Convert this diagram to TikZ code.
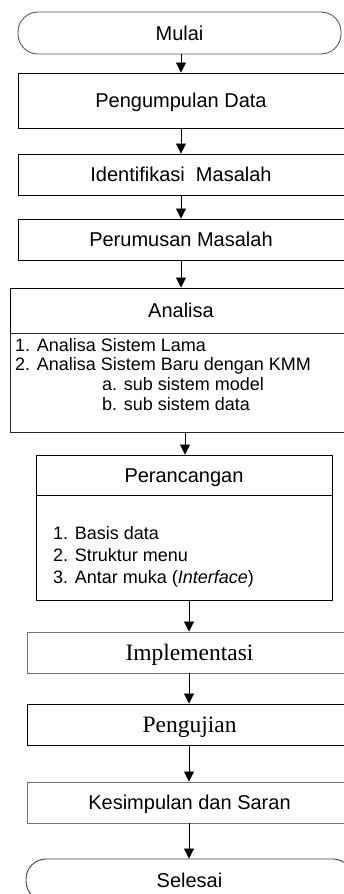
\documentclass[tikz,border=0pt]{standalone}
\usepackage{fontspec}
\setmainfont{Liberation Sans}
\newfontfamily\tnr{Liberation Serif}
\usetikzlibrary{arrows.meta}
\begin{document}
\begin{tikzpicture}[x=1pt,y=-1pt,
  box/.style={draw=black,line width=0.9pt,rectangle,inner sep=0pt,
    text height=14.4pt,text depth=0pt,font=\fontsize{20}{24}\selectfont},
  gbox/.style={box,draw=black!55},
  tbox/.style={box,text height=15.6pt,font=\tnr\fontsize{23.5}{28}\selectfont},
  term/.style={box,rounded corners=20pt},
  item/.style={anchor=base west,inner sep=0pt,font=\fontsize{18}{20}\selectfont},
  arr/.style={-{Triangle[length=10pt,width=10pt]},line width=0.8pt,draw=black}]
\useasboundingbox (0,0) rectangle (343,894);
% boxes
\node[term,draw=black!65,minimum width=323pt,minimum height=42pt] (mulai) at (179.5,33) {Mulai};
\node[box,minimum width=326pt,minimum height=55pt] (pengumpulan) at (181,100.5) {Pengumpulan Data};
\node[box,minimum width=326pt,minimum height=41pt] (identifikasi) at (181,174.5) {Identifikasi\ \ Masalah};
\node[box,minimum width=326pt,minimum height=41pt] (perumusan) at (181,239.5) {Perumusan Masalah};
\node[box,minimum width=342pt,minimum height=45pt] (anatitle) at (181,310.5) {Analisa};
\node[box,draw=black!85,minimum width=342pt,minimum height=99pt] (anabody) at (181,382.5) {};
\node[item] (a1) at (15,351.7) {1. Analisa Sistem Lama};
\node[item] (a2) at (15,370.7) {2. Analisa Sistem Baru dengan KMM};
\node[item] (a3) at (102,390) {a. sub sistem model};
\node[item] (a4) at (102,410) {b. sub sistem data};
\node[box,minimum width=296pt,minimum height=40pt] (pertitle) at (184,475) {Perancangan};
\node[box,minimum width=296pt,minimum height=105pt] (perbody) at (184,547.5) {};
\node[item] (p1) at (53,539.3) {1. Basis data};
\node[item] (p2) at (53,561.7) {2. Struktur menu};
\node[item] (p3) at (53,583.3) {3. Antar muka (\textit{Interface})};
\node[tbox,draw=black!55,minimum width=325pt,minimum height=41pt] (implementasi) at (189.5,652.5) {Implementasi};
\node[tbox,minimum width=325pt,minimum height=41pt] (pengujian) at (189.5,724.5) {Pengujian};
\node[gbox,minimum width=325pt,minimum height=41pt] (kesimpulan) at (189.5,802.5) {Kesimpulan dan Saran};
\node[term,draw=black!75,minimum width=327pt,minimum height=42pt] (selesai) at (189.5,880) {Selesai};
% connectors
\draw[arr] ([xshift=1.5pt]mulai.south) -- (pengumpulan.north);
\draw[arr] (pengumpulan.south) -- (identifikasi.north);
\draw[arr] (identifikasi.south) -- (perumusan.north);
\draw[arr] (perumusan.south) -- (anatitle.north);
\draw[arr] ([xshift=4pt]anabody.south) -- ([xshift=1pt]pertitle.north);
\draw[arr] ([xshift=5pt]perbody.south) -- ([xshift=-0.5pt]implementasi.north);
\draw[arr] ([xshift=-0.5pt]implementasi.south) -- ([xshift=-0.5pt]pengujian.north);
\draw[arr] ([xshift=-0.5pt]pengujian.south) -- ([xshift=-0.5pt]kesimpulan.north);
\draw[arr] ([xshift=-0.5pt]kesimpulan.south) -- ([xshift=-0.5pt]selesai.north);
\end{tikzpicture}
\end{document}
